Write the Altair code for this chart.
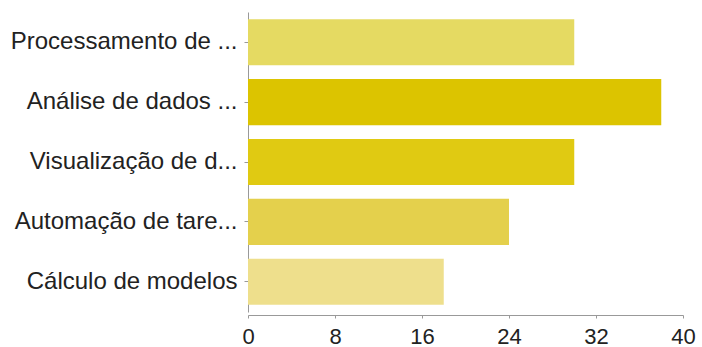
import altair as alt
import pandas as pd

categories = ["Processamento de ...", "Análise de dados ...", "Visualização de d...",
              "Automação de tare...", "Cálculo de modelos"]
values = [30, 38, 30, 24, 18]
colors = ["#E5DA62", "#DCC400", "#E0CA12", "#E4D04C", "#EEDF8C"]
x_ticks = [0, 8, 16, 24, 32, 40]

df = pd.DataFrame({"cat": categories, "val": values})

chart = alt.Chart(df).mark_bar().encode(
    y=alt.Y("cat:N", sort=categories, title=None,
            scale=alt.Scale(paddingInner=0.23, paddingOuter=0.12),
            axis=alt.Axis(labelFontSize=24, labelColor="#222222", labelFont="Liberation Sans",
                          labelLimit=300, labelPadding=7, tickSize=4, tickColor="#999999",
                          domainColor="#999999", labelOverlap=False)),
    x=alt.X("val:Q", title=None,
            scale=alt.Scale(domain=[0, 40], nice=False),
            axis=alt.Axis(values=x_ticks, labelFontSize=22, labelColor="#222222",
                          labelFont="Liberation Sans", grid=False, tickSize=3,
                          tickColor="#999999", domainColor="#999999", labelPadding=8,
                          offset=3, labelFlush=False)),
    color=alt.Color("cat:N", scale=alt.Scale(domain=categories, range=colors), legend=None),
).properties(
    width=435, height=300,
    autosize=alt.AutoSizeParams(type="none"),
    padding={"left": 248, "top": 12, "right": 19, "bottom": 35},
).configure(background="white").configure_view(stroke=None)

chart.save("out.html", embed_options={"renderer": "svg", "actions": False})
